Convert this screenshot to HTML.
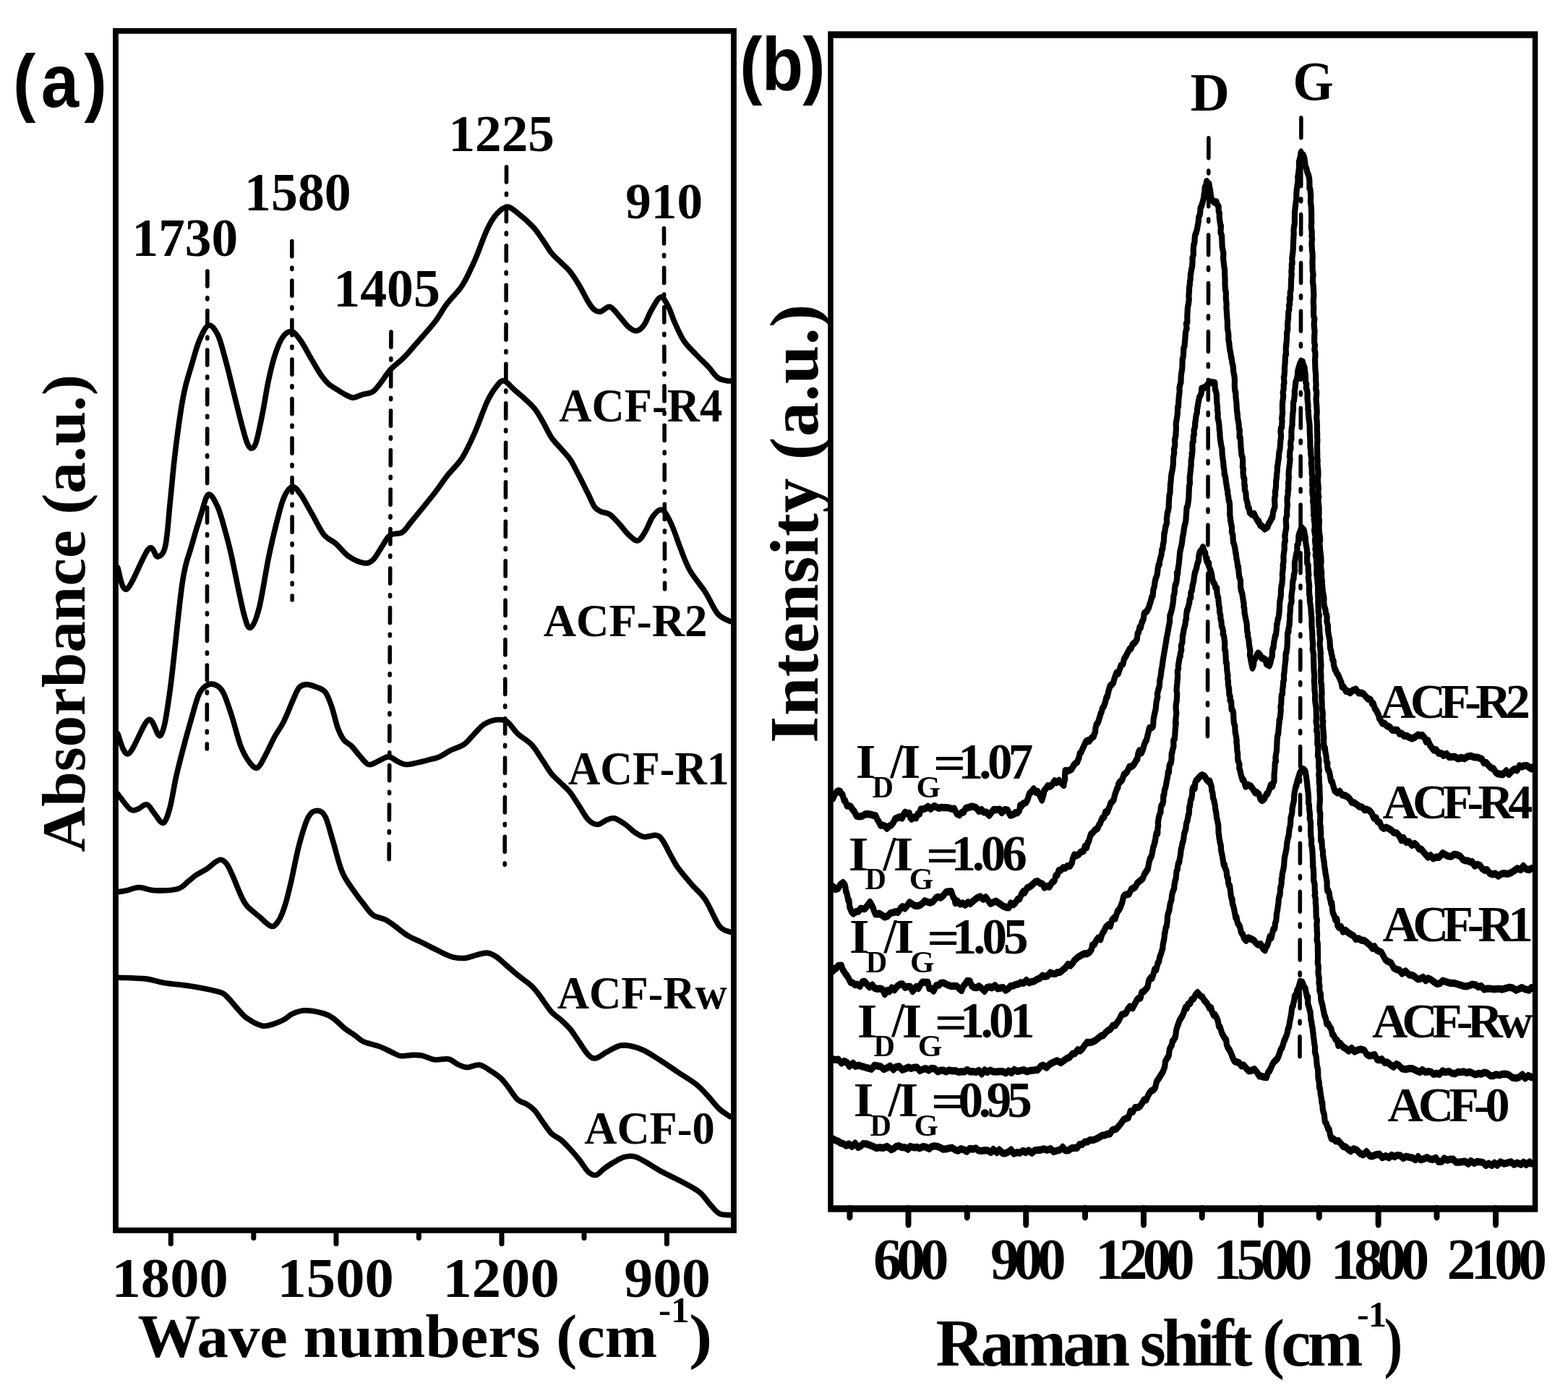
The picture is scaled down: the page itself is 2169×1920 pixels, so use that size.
<!DOCTYPE html>
<html><head><meta charset="utf-8"><style>html,body{margin:0;padding:0;background:#fff;}svg{display:block;}</style></head>
<body><svg width="2169" height="1920" viewBox="0 0 2169 1920">
<rect width="2169" height="1920" fill="#fff"/>
<rect x="160.0" y="42.8" width="855.0" height="1659.1000000000001" fill="none" stroke="#000" stroke-width="7.8"/>
<line x1="236.3" y1="1701.9" x2="236.3" y2="1720.5" stroke="#000" stroke-width="7" stroke-linecap="round"/>
<line x1="350.8" y1="1701.9" x2="350.8" y2="1712.5" stroke="#000" stroke-width="7" stroke-linecap="round"/>
<line x1="465.0" y1="1701.9" x2="465.0" y2="1720.5" stroke="#000" stroke-width="7" stroke-linecap="round"/>
<line x1="579.4" y1="1701.9" x2="579.4" y2="1712.5" stroke="#000" stroke-width="7" stroke-linecap="round"/>
<line x1="694.0" y1="1701.9" x2="694.0" y2="1720.5" stroke="#000" stroke-width="7" stroke-linecap="round"/>
<line x1="808.0" y1="1701.9" x2="808.0" y2="1712.5" stroke="#000" stroke-width="7" stroke-linecap="round"/>
<line x1="922.4" y1="1701.9" x2="922.4" y2="1720.5" stroke="#000" stroke-width="7" stroke-linecap="round"/>
<path d="M162.8,785.1C164.9,790.1 168.4,819.2 175.5,814.9C182.6,810.7 198.2,767 205.3,759.6C212.4,752.1 214.2,770.9 218.1,770.2C222,769.5 225.9,767.6 228.7,755.3C231.6,743.1 233,717.3 235.1,696.9C237.3,676.5 239,654.4 241.5,633.1C244,611.8 247.5,585.5 250,569.2C252.5,552.9 253.9,545.8 256.4,535.2C258.9,524.5 261.7,516 264.9,505.4C268.1,494.7 271.7,480.6 275.6,471.3C279.5,462.1 284.1,451.5 288.3,450C292.6,448.6 297.2,455 301.1,462.8C305,470.6 308.2,484.1 311.7,496.9C315.3,509.6 318.8,525.2 322.4,539.4C325.9,553.6 329.8,569.9 333,582C336.2,594.1 339.1,605.4 341.5,611.8C344,618.2 345.8,620.3 347.9,620.3C350,620.3 351.8,619.6 354.3,611.8C356.8,604 360,587.7 362.8,573.5C365.7,559.3 368.5,540.1 371.3,526.7C374.2,513.2 376.7,502.5 379.8,492.6C383,482.7 386.6,472.7 390.5,467.1C394.4,461.4 399,457.9 403.3,458.6C407.5,459.3 411.4,464.9 416,471.3C420.6,477.7 426.3,489.1 430.9,496.9C435.5,504.7 439.8,512.5 443.7,518.2C447.6,523.8 450.4,527.4 454.3,530.9C458.2,534.5 463.2,536.9 467.1,539.4C471,541.9 474.2,544 477.7,545.8C481.3,547.6 484.5,550.1 488.4,550.1C492.3,550.1 496.5,547.2 501.1,545.8C505.8,544.4 511.4,544.8 516,541.6C520.7,538.4 524.9,531.6 528.8,526.7C532.7,521.7 534.5,517.1 539.5,511.8C544.4,506.4 552.6,500.8 558.6,494.7C564.6,488.7 568.5,483.7 575.6,475.6C582.7,467.4 594.1,455 601.2,445.8C608.3,436.6 611.8,428.8 618.2,420.3C624.6,411.7 633.1,404.6 639.5,394.7C645.9,384.8 650.8,373.4 656.5,360.7C662.2,347.9 668.6,328.7 673.5,318.1C678.5,307.5 681.7,302.1 686.3,296.8C690.9,291.5 696.2,286.5 701.2,286.2C706.2,285.8 710.1,290.1 716.1,294.7C722.1,299.3 731.7,307.8 737.4,313.8C743.1,319.9 745.9,324.8 750.1,330.9C754.4,336.9 758.7,344.7 762.9,350C767.2,355.3 771.4,358.5 775.7,362.8C779.9,367 784.2,370.2 788.5,375.6C792.7,380.9 797,387.6 801.2,394.7C805.5,401.8 810.4,412.5 814,418.1C817.5,423.8 819.7,426.6 822.5,428.8C825.3,430.9 827.5,431.6 831,430.9C834.6,430.2 839.5,423.4 843.8,424.5C848,425.6 852.3,432.7 856.6,437.3C860.8,441.9 865.4,448.8 869.3,452.2C873.2,455.6 876.4,458.1 880,457.7C883.5,457.4 887.1,454.9 890.6,450C894.2,445.2 897.3,435.3 901.2,428.8C905.1,422.2 910.1,411.6 914,410.9C917.9,410.2 921.5,418.7 924.7,424.5C927.8,430.3 929.6,438 933.2,445.8C936.7,453.6 941,463.9 945.9,471.3C950.9,478.8 957.3,484.5 963,490.5C968.6,496.5 975,502.2 980,507.5C985,512.8 988.5,519.2 992.8,522.4C997,525.6 1002,526 1005.5,526.7C1009.1,527.4 1012.6,526.7 1014,526.7" fill="none" stroke="#000" stroke-width="7.6" stroke-linejoin="round" stroke-linecap="round"/>
<path d="M162.8,1015C165.3,1019.6 170.6,1045.8 177.7,1042.6C184.8,1039.4 197.9,1000.1 205.3,995.8C212.8,991.6 217.4,1023.8 222.4,1017.1C227.3,1010.4 230.2,990.5 235.1,955.4C240.1,920.3 247.2,839.8 252.2,806.4C257.1,773.1 260.7,770.9 264.9,755.3C269.2,739.7 273.8,724.6 277.7,712.8C281.6,700.9 284.4,686.1 288.3,684.1C292.2,682.2 297.2,692.7 301.1,701.2C305,709.7 308.5,723.9 311.7,735.2C314.9,746.6 316,750.3 320.3,769.3C324.5,788.2 332.9,832.5 337.3,849C341.7,865.4 343.1,869.5 346.6,868.1C350.2,866.7 354.4,856.4 358.6,840.5C362.7,824.5 367.4,791.5 371.3,772.4C375.2,753.2 378.4,739.5 382,725.5C385.5,711.5 388.9,697.1 392.6,688.4C396.4,679.7 400.6,674.2 404.5,673.5C408.4,672.8 411.6,678.1 416,684.1C420.4,690.2 425.6,700.5 430.9,709.7C436.2,718.9 442.3,732.4 447.9,739.5C453.6,746.6 459.3,747.3 465,752.3C470.6,757.2 475.6,764.9 482,769.3C488.4,773.7 497.6,777.9 503.3,778.7C509,779.6 511.8,778.4 516,774.5C520.3,770.6 524.9,761 528.8,755.3C532.7,749.7 534.8,743.6 539.5,740.4C544.1,737.2 551.5,739.4 556.5,736.2C561.4,733 561.8,730.3 569.3,721.3C576.7,712.3 593,692.5 601.2,682C609.3,671.6 611.8,666.8 618.2,658.6C624.6,650.5 633.1,643 639.5,633.1C645.9,623.1 650.8,611.8 656.5,599C662.2,586.3 668.6,567.1 673.5,556.5C678.5,545.8 682.4,540.1 686.3,535.2C690.2,530.2 692.7,526 696.9,526.7C701.2,527.4 705.1,533.4 711.8,539.4C718.6,545.5 731,555.7 737.4,562.8C743.8,569.9 745.9,574.9 750.1,582C754.4,589.1 758.7,599 762.9,605.4C767.2,611.8 771.4,615.3 775.7,620.3C779.9,625.3 784.2,628.8 788.5,635.2C792.7,641.6 797,650.5 801.2,658.6C805.5,666.8 810.4,677.1 814,684.1C817.5,691.2 819.7,697.3 822.5,701.2C825.3,705.1 827.5,705.8 831,707.6C834.6,709.3 839.5,709 843.8,711.8C848,714.7 852.3,720 856.6,724.6C860.8,729.2 865.1,735.6 869.3,739.5C873.6,743.4 878.2,748.7 882.1,748C886,747.3 889.2,740.9 892.7,735.2C896.3,729.5 899.5,718.9 903.4,713.9C907.3,709 911.9,703.5 916.1,705.4C920.4,707.4 924.7,716.5 928.9,725.5C933.2,734.6 937.4,748.9 941.7,759.6C945.9,770.2 948.8,779.5 954.5,789.4C960.1,799.3 969.3,809.2 975.7,819.2C982.1,829.1 987.1,842.2 992.8,849C998.4,855.7 1006.9,857.8 1009.8,859.6" fill="none" stroke="#000" stroke-width="7.6" stroke-linejoin="round" stroke-linecap="round"/>
<path d="M162.8,1098C165.6,1101.5 175.2,1115.7 179.8,1119.3C184.4,1122.8 186.5,1120.3 190.4,1119.3C194.3,1118.2 199.3,1111.8 203.2,1112.9C207.1,1113.9 210.1,1121.4 213.8,1125.6C217.6,1129.9 222.2,1139.8 225.8,1138.4C229.3,1137 232.1,1127.8 235.1,1117.1C238.1,1106.5 240.4,1088.7 243.6,1074.6C246.8,1060.4 250.7,1045.5 254.3,1032C257.8,1018.5 261.4,1005.7 264.9,993.7C268.5,981.6 271.7,967.4 275.6,959.6C279.5,951.8 284.1,948.6 288.3,946.9C292.6,945.1 297.6,946.9 301.1,949C304.6,951.1 306.4,952.9 309.6,959.6C312.8,966.4 316.4,977.4 320.3,989.4C324.2,1001.5 328.8,1021 333,1032C337.3,1043 341.9,1050.4 345.8,1055.4C349.7,1060.4 352.9,1063.6 356.4,1061.8C360,1060 363.2,1051.9 367.1,1044.8C371,1037.7 375.6,1027 379.8,1019.2C384.1,1011.4 388.4,1006.5 392.6,997.9C396.9,989.4 401.8,976 405.4,968.2C408.9,960.3 410.7,954.7 413.9,951.1C417.1,947.6 420.3,946.9 424.5,946.9C428.8,946.9 435.2,949.4 439.4,951.1C443.7,952.9 446.9,953.3 450.1,957.5C453.3,961.8 455.7,968.5 458.6,976.7C461.4,984.8 464.3,998.7 467.1,1006.5C469.9,1014.3 472.4,1019.2 475.6,1023.5C478.8,1027.7 482.7,1028.4 486.3,1032C489.8,1035.5 493,1040.5 496.9,1044.8C500.8,1049 505.4,1056.1 509.7,1057.5C513.9,1059 517.8,1055.1 522.4,1053.3C527,1051.5 532.7,1046.9 537.3,1046.9C541.9,1046.9 546.2,1051.5 550.1,1053.3C554,1055.1 556.5,1057.2 560.7,1057.5C565,1057.9 570.3,1056.5 575.6,1055.4C581,1054.3 587.3,1052.6 592.7,1051.1C598,1049.7 602.6,1049 607.6,1046.9C612.5,1044.8 616.8,1041.2 622.5,1038.4C628.1,1035.5 636.3,1033.4 641.6,1029.9C646.9,1026.3 649.8,1021.7 654.4,1017.1C659,1012.5 664,1005.7 669.3,1002.2C674.6,998.7 681,996.5 686.3,995.8C691.6,995.1 696.2,994.8 701.2,997.9C706.2,1001.1 710.4,1009.7 716.1,1015C721.8,1020.3 729.6,1023.8 735.2,1029.9C740.9,1035.9 745.5,1044.4 750.1,1051.1C754.8,1057.9 758.7,1065 762.9,1070.3C767.2,1075.6 771.4,1078.8 775.7,1083.1C779.9,1087.3 784.2,1090.5 788.5,1095.8C792.7,1101.2 797,1108.6 801.2,1115C805.5,1121.4 809.7,1129.9 814,1134.1C818.2,1138.4 822.5,1140.5 826.8,1140.5C831,1140.5 835.6,1135.6 839.5,1134.1C843.4,1132.7 845.9,1131 850.2,1132C854.4,1133.1 860.5,1137.3 865.1,1140.5C869.7,1143.7 873.6,1148.3 877.8,1151.2C882.1,1154 885.6,1156.8 890.6,1157.6C895.6,1158.3 903.4,1154.7 907.6,1155.4C911.9,1156.1 912.6,1156.8 916.1,1161.8C919.7,1166.8 925.4,1178.9 928.9,1185.2C932.5,1191.6 932.8,1193.5 937.4,1199.8C942,1206.1 950.2,1215.8 956.6,1223.2C963,1230.7 969.3,1234.9 975.7,1244.5C982.1,1254.1 989.2,1273.2 994.9,1280.7C1000.6,1288.1 1007.3,1287.8 1009.8,1289.2" fill="none" stroke="#000" stroke-width="7.6" stroke-linejoin="round" stroke-linecap="round"/>
<path d="M162.8,1233.8C164.9,1233.5 170.6,1232.8 175.5,1231.7C180.5,1230.7 186.2,1227.5 192.6,1227.5C198.9,1227.5 205,1231.4 213.8,1231.7C222.7,1232.1 238,1231.7 245.8,1229.6C253.6,1227.5 256.4,1222.1 260.7,1218.9C264.9,1215.8 267,1213.3 271.3,1210.4C275.6,1207.6 281.9,1204.8 286.2,1201.9C290.5,1199.1 293.7,1195.5 296.8,1193.4C300,1191.3 302.5,1188.8 305.4,1189.2C308.2,1189.5 311,1191.6 313.9,1195.5C316.7,1199.4 319.2,1205.5 322.4,1212.6C325.6,1219.7 329.8,1231.4 333,1238.1C336.2,1244.8 337.3,1248 341.5,1253C345.8,1258 352.9,1263.1 358.6,1267.9C364.2,1272.6 371,1280.8 375.6,1281.5C380.2,1282.2 383,1277.3 386.2,1272.2C389.4,1267 391.9,1260.1 394.7,1250.9C397.6,1241.6 400.1,1230.6 403.3,1216.8C406.4,1203 410,1182.7 413.9,1168.2C417.8,1153.7 422.4,1137.7 426.7,1129.9C430.9,1122.1 435.5,1121.4 439.4,1121.4C443.3,1121.4 446.5,1122.8 450.1,1129.9C453.6,1137 456.8,1151.2 460.7,1163.9C464.6,1176.7 468.5,1194.9 473.5,1206.5C478.4,1218.2 485.5,1226.5 490.5,1233.8C495.5,1241.2 499,1245.6 503.3,1250.9C507.5,1256.2 511.1,1262.2 516,1265.8C521,1269.3 528.1,1269.7 533.1,1272.2C538,1274.6 540.9,1277.1 545.8,1280.7C550.8,1284.2 557.2,1289.9 562.9,1293.4C568.5,1297 574.2,1299.1 579.9,1301.9C585.6,1304.8 591.2,1307.6 596.9,1310.5C602.6,1313.3 609,1316.7 613.9,1319C618.9,1321.2 621.7,1323 626.7,1324.1C631.7,1325.1 638.4,1325.9 643.7,1325.4C649.1,1324.9 653.7,1322.3 658.6,1321.1C663.6,1319.9 668.9,1317.8 673.5,1318.1C678.1,1318.5 681.7,1320.2 686.3,1323.2C690.9,1326.2 696.2,1331.7 701.2,1336C706.2,1340.3 710.4,1344.2 716.1,1348.8C721.8,1353.4 730.3,1359.1 735.2,1363.7C740.2,1368.3 741.3,1370.4 745.9,1376.4C750.5,1382.5 758,1394.2 762.9,1399.8C767.9,1405.5 771.4,1406.6 775.7,1410.5C779.9,1414.4 784.6,1418.6 788.5,1423.3C792.4,1427.9 794.8,1432.1 799.1,1438.2C803.4,1444.2 809.7,1455.2 814,1459.4C818.2,1463.7 820.4,1464.4 824.6,1463.7C828.9,1463 834.2,1458 839.5,1455.2C844.9,1452.3 851.2,1448.1 856.6,1446.7C861.9,1445.2 865.8,1445.6 871.5,1446.7C877.1,1447.7 883.9,1449.9 890.6,1453C897.3,1456.2 904.1,1460.9 911.9,1465.8C919.7,1470.8 928.9,1477.2 937.4,1482.8C945.9,1488.5 955.9,1494.2 963,1499.9C970.1,1505.5 974.7,1511.2 980,1516.9C985.3,1522.6 989.9,1529.3 994.9,1533.9C999.9,1538.5 1007.3,1542.8 1009.8,1544.6" fill="none" stroke="#000" stroke-width="7.6" stroke-linejoin="round" stroke-linecap="round"/>
<path d="M162.8,1352.2C169.2,1352.5 190.4,1352.7 201.1,1353.9C211.7,1355.1 215.3,1357.6 226.6,1359.4C238,1361.3 256.4,1362.8 269.2,1364.9C281.9,1367.1 295.8,1369.9 303.2,1372.2C310.7,1374.4 309.6,1374.7 313.9,1378.6C318.1,1382.5 324.2,1390.6 328.8,1395.6C333.4,1400.6 335.9,1404.5 341.5,1408.4C347.2,1412.3 356.4,1417.7 362.8,1419C369.2,1420.3 374.9,1417.4 379.8,1416C384.8,1414.6 388.4,1412.8 392.6,1410.5C396.9,1408.1 400.4,1404.1 405.4,1402C410.3,1399.8 415.3,1397.7 422.4,1397.7C429.5,1397.7 441.6,1400.2 447.9,1402C454.3,1403.7 455.7,1404.8 460.7,1408.4C465.7,1411.9 472.8,1419.4 477.7,1423.3C482.7,1427.2 486.3,1428.8 490.5,1431.8C494.8,1434.7 497.6,1438.5 503.3,1441.1C509,1443.8 518.2,1445.2 524.6,1447.5C530.9,1449.9 536.6,1453 541.6,1455.2C546.6,1457.4 549.4,1460 554.4,1460.7C559.3,1461.4 566.4,1459.5 571.4,1459.4C576.3,1459.4 579.2,1459.2 584.1,1460.3C589.1,1461.3 595.1,1465 601.2,1465.8C607.2,1466.6 615,1463.9 620.3,1465C625.6,1466 628.8,1470.3 633.1,1472.2C637.4,1474.1 640.9,1476.3 645.9,1476.5C650.8,1476.6 657.6,1472.3 662.9,1473.1C668.2,1473.8 672.8,1477.7 677.8,1480.7C682.8,1483.8 688.4,1487.5 692.7,1491.4C696.9,1495.3 699.4,1499.2 703.3,1504.1C707.2,1509.1 711.8,1517.2 716.1,1521.1C720.4,1525.1 725,1525.1 728.9,1527.5C732.8,1530 736,1532.1 739.5,1536C743.1,1539.9 746.2,1545.6 750.1,1550.9C754,1556.3 758.7,1563.7 762.9,1568C767.2,1572.2 771.4,1572.9 775.7,1576.5C779.9,1580 784.2,1584.6 788.5,1589.3C792.7,1593.9 797,1598.8 801.2,1604.1C805.5,1609.5 810.1,1617.6 814,1621.2C817.9,1624.7 821.1,1626.1 824.6,1625.4C828.2,1624.7 831.4,1619.8 835.3,1616.9C839.2,1614.1 843.4,1611.1 848,1608.4C852.7,1605.7 858,1602.2 862.9,1600.7C867.9,1599.3 872.5,1598.6 877.8,1599.9C883.2,1601.2 888.5,1604.9 894.9,1608.4C901.2,1612 908.3,1616.9 916.1,1621.2C923.9,1625.4 933.2,1629.3 941.7,1633.9C950.2,1638.6 960.5,1643.5 967.2,1648.8C974,1654.2 977.5,1660.9 982.1,1665.9C986.7,1670.8 990.3,1676.2 994.9,1678.6C999.5,1681.1 1007.3,1680.4 1009.8,1680.8" fill="none" stroke="#000" stroke-width="7.6" stroke-linejoin="round" stroke-linecap="round"/>
<line x1="286.9" y1="375" x2="286.3" y2="1036" stroke="#000" stroke-width="5.6" stroke-dasharray="21.1 15.6 2.3 15.5" stroke-linecap="round"/>
<line x1="403.8" y1="333.6" x2="404.2" y2="830" stroke="#000" stroke-width="5.6" stroke-dasharray="21.1 15.6 2.3 15.5" stroke-linecap="round"/>
<line x1="541.0" y1="459.1" x2="538.2" y2="1193" stroke="#000" stroke-width="5.6" stroke-dasharray="21.1 15.6 2.3 15.5" stroke-linecap="round"/>
<line x1="700.6" y1="230.8" x2="698.2" y2="1199" stroke="#000" stroke-width="5.6" stroke-dasharray="21.1 15.6 2.3 15.5" stroke-linecap="round"/>
<line x1="918.5" y1="315.8" x2="919.6" y2="815" stroke="#000" stroke-width="5.6" stroke-dasharray="21.1 15.6 2.3 15.5" stroke-linecap="round"/>
<text transform="translate(18,147.5) scale(0.9000,1)" letter-spacing="8.15" font-family='"Liberation Sans", sans-serif' font-weight="bold" font-size="104.66">(a)</text>
<text transform="translate(182.5,353.9) scale(1.0017,1)" font-family='"Liberation Serif", serif' font-weight="bold" font-size="73.19">1730</text>
<text transform="translate(338.1,291.3) scale(0.9869,1)" font-family='"Liberation Serif", serif' font-weight="bold" font-size="74.81">1580</text>
<text transform="translate(461.2,423.9) scale(0.9896,1)" font-family='"Liberation Serif", serif' font-weight="bold" font-size="74.67">1405</text>
<text transform="translate(620.4,209) scale(1.0314,1)" font-family='"Liberation Serif", serif' font-weight="bold" font-size="71.08">1225</text>
<text transform="translate(865.2,301.8) scale(1.0078,1)" font-family='"Liberation Serif", serif' font-weight="bold" font-size="70.67">910</text>
<text transform="translate(773.3,582.6) scale(0.9462,1)" font-family='"Liberation Serif", serif' font-weight="bold" font-size="66.17">ACF-R4</text>
<text transform="translate(751.7,880.3) scale(0.9913,1)" font-family='"Liberation Serif", serif' font-weight="bold" font-size="63.35">ACF-R2</text>
<text transform="translate(785.7,1084.5) scale(0.9296,1)" font-family='"Liberation Serif", serif' font-weight="bold" font-size="66.47">ACF-R1</text>
<text transform="translate(770.8,1395) scale(0.9681,1)" font-family='"Liberation Serif", serif' font-weight="bold" font-size="63.35">ACF-Rw</text>
<text transform="translate(808.3,1582.3) scale(0.9903,1)" font-family='"Liberation Serif", serif' font-weight="bold" font-size="63.11">ACF-0</text>
<text transform="translate(154.5,1793.9) scale(1.0296,1)" font-family='"Liberation Serif", serif' font-weight="bold" font-size="78.37">1800</text>
<text transform="translate(383.5,1793.9) scale(1.0296,1)" font-family='"Liberation Serif", serif' font-weight="bold" font-size="78.37">1500</text>
<text transform="translate(612.4,1793.9) scale(1.0296,1)" font-family='"Liberation Serif", serif' font-weight="bold" font-size="78.37">1200</text>
<text transform="translate(863.3,1793.9) scale(1.0181,1)" font-family='"Liberation Serif", serif' font-weight="bold" font-size="78.37">900</text>
<text transform="translate(190.5,1876.9) scale(1.0233,1)" font-family='"Liberation Serif", serif' font-weight="bold" font-size="84.85">Wave numbers (cm</text>
<text transform="translate(910.9,1828.9) scale(1.0046,1)" font-family='"Liberation Serif", serif' font-weight="bold" font-size="51.21">-1</text>
<text transform="translate(952.9,1876.9) scale(1.1442,1)" font-family='"Liberation Serif", serif' font-weight="bold" font-size="84.85">)</text>
<text transform="translate(117.3,1178.7) rotate(-90) scale(1.0321,1)" font-family='"Liberation Serif", serif' font-weight="bold" font-size="84.41">Absorbance (a.u.)</text>
<g transform="translate(1149.0,0) scale(0.8,1)">
<rect x="0" y="48.0" width="1218.2" height="1624.0" fill="none" stroke="#000" stroke-width="9.4"/>
<line x1="33.1" y1="1672.0" x2="33.1" y2="1683.4" stroke="#000" stroke-width="10" stroke-linecap="round"/>
<line x1="134.4" y1="1672.0" x2="134.4" y2="1693.6" stroke="#000" stroke-width="10" stroke-linecap="round"/>
<line x1="236.0" y1="1672.0" x2="236.0" y2="1683.4" stroke="#000" stroke-width="10" stroke-linecap="round"/>
<line x1="337.8" y1="1672.0" x2="337.8" y2="1693.6" stroke="#000" stroke-width="10" stroke-linecap="round"/>
<line x1="440.0" y1="1672.0" x2="440.0" y2="1683.4" stroke="#000" stroke-width="10" stroke-linecap="round"/>
<line x1="541.2" y1="1672.0" x2="541.2" y2="1693.6" stroke="#000" stroke-width="10" stroke-linecap="round"/>
<line x1="642.2" y1="1672.0" x2="642.2" y2="1683.4" stroke="#000" stroke-width="10" stroke-linecap="round"/>
<line x1="743.8" y1="1672.0" x2="743.8" y2="1693.6" stroke="#000" stroke-width="10" stroke-linecap="round"/>
<line x1="844.7" y1="1672.0" x2="844.7" y2="1683.4" stroke="#000" stroke-width="10" stroke-linecap="round"/>
<line x1="947.0" y1="1672.0" x2="947.0" y2="1693.6" stroke="#000" stroke-width="10" stroke-linecap="round"/>
<line x1="1048.1" y1="1672.0" x2="1048.1" y2="1683.4" stroke="#000" stroke-width="10" stroke-linecap="round"/>
<line x1="1150.0" y1="1672.0" x2="1150.0" y2="1693.6" stroke="#000" stroke-width="10" stroke-linecap="round"/>
<path d="M4.3,1104.5 7,1099.2 10.7,1095.3 13.6,1094.2 16.6,1094.7 18.4,1097.8 20.6,1099.3 23.1,1107 24.9,1107.1 28.3,1114.6 31,1114.7 34.6,1115.5 38.1,1120 40.6,1122 44.8,1128.8 49,1129.5 54.6,1128.9 59.3,1126.4 63.6,1126.2 69.2,1126.6 73.7,1127.7 77.8,1128.3 81,1134 83.1,1136.4 86.2,1141.6 89.2,1141.4 93.5,1142.4 97.4,1145.8 101.3,1142.7 104.8,1141.5 108.6,1137.7 111.4,1132.9 114.6,1131.7 119.1,1130.1 123.8,1131.5 126.3,1126.6 128.8,1123.7 133.5,1125.7 136.1,1124.8 137.8,1130.9 140,1132.7 144.5,1130.3 147.9,1131.4 151.1,1125.5 153.9,1125.5 155.6,1119.7 159.3,1119.4 164.3,1118.2 168.2,1115.7 173.2,1119 178.7,1115 182,1116 186.6,1117.9 191.7,1116.8 195.3,1117.1 200.4,1117.2 205.8,1117.8 209.6,1119 213.8,1118.5 218,1125.5 222.6,1127.3 226.4,1124.1 229.8,1123.5 233.6,1118.1 238.4,1117.1 243.1,1115.6 247.1,1115.8 251.8,1117.3 256.2,1121.9 261,1120 264.4,1123.4 269.1,1123.5 274.3,1127.9 278.3,1123.4 282.2,1119.8 287.1,1120.2 292.4,1119.5 295.8,1124.2 301.1,1120.1 305.9,1120.6 310.6,1127.6 315.8,1126.7 319.4,1124.2 323.2,1124.3 326.4,1121.1 327.7,1114.1 330,1115 333.4,1111.3 337.8,1110.1 340.5,1106.2 343,1099.4 344.5,1096.9 346.8,1095.7 351,1091.4 355,1095.9 358.1,1095 359.8,1097.2 361.9,1100.7 365.4,1106.6 367.5,1100.7 368.4,1098.7 368.9,1094 371.9,1091.2 375.3,1087.2 378.8,1088 382.9,1085.6 387.2,1080.3 390.7,1082.3 395,1079.7 398,1082.2 403.2,1086.1 403.5,1082.7 405.4,1077.5 405,1073.3 405.6,1066.2 409.2,1066.4 412.6,1065.8 416.8,1063.7 421.2,1057.5 423.9,1055.5 426.7,1054 428.4,1049.5 429.3,1048.8 430.7,1042.5 432.4,1041.5 434.5,1038 437.8,1032.3 441.2,1026.2 444.3,1024.4 446.9,1025.2 450.8,1021.1 454.8,1018.7 456.1,1015.1 457.6,1012.9 457.9,1008 459.5,1002.4 461.8,1000 463.4,996.9 465.5,991.4 466.7,987.8 468.4,984.7 470.2,979.4 472.2,977.3 474.5,972.5 476.9,964.5 478.3,964.1 480.7,955.3 481.5,953.3 483.3,948.6 485.1,947.7 488.9,944.2 490.7,938.6 494.2,930.9 497.3,931.5 499.1,927.3 502.1,920.4 505.7,918.3 507.3,911.9 510.8,907.4 513.2,903.4 517,897.9 519.6,896.6 521.6,892.1 525.1,889.4 526.6,888.3 529.8,884.3 530.7,876.3 532.3,875.3 534.3,867.6 536.1,868.2 538.2,860.5 538.8,860.6 541.1,855.7 542.1,848.5 545.4,846.4 546.9,845.4 550.1,840.5 551.5,836.4 553.2,832.8 555.3,825.7 557,824.7 558,815.5 559.8,811.3 560.6,805.8 561.9,800.9 563.2,798 564.8,794.3 565.3,790 566,785.4 566.8,781.7 568.5,780.9 568.7,776.6 570.8,770.5 571.6,768.4 572,766.6 572.8,760.6 574.2,759.2 574.6,754.1 576.1,748.8 576.5,742.9 576.8,737.4 577.7,736.7 578.8,729.1 579.3,728.7 581.2,723.5 581.1,716.7 581.8,713.6 582.3,709.1 583.2,707.7 584.9,700.8 584.5,698.6 585.3,690.4 585.5,685.8 586.9,681.6 587.1,676.6 587.5,670 588.3,665.4 588.9,657.9 589.9,653.7 591,650 591.8,645.4 592.4,641.5 592.5,633.2 593.9,627.2 594.1,625.3 593.6,622 595.3,616.6 595.5,613.6 595,608.1 595.9,606.1 596.8,602.4 596.8,599 597.4,594 597.1,586.3 597.4,584.1 597.9,582.5 599.1,576.6 599.8,572 600.2,562.9 601.3,561.9 601.6,555.2 602.5,546.8 603.4,542.1 603.1,536.4 604.8,530.3 605.6,529 605.9,519.9 606.6,516.1 607.8,510.3 608.3,501.8 608.3,497.5 609.9,492.5 610.3,485.5 610.3,481.7 611.9,478.9 612.7,471.4 613.1,467.3 613.7,460.2 615,455.7 615.8,455.1 614.9,447.5 616.7,445.7 616.6,437.1 616.7,436.6 617.1,430.1 617.4,425.5 619,419 619.2,417 619.8,413.8 619.2,410.6 620.1,401.1 619.8,399.3 621.1,393.5 621.2,388.8 622.1,386.5 622.3,380.6 624.2,371.4 625.1,369.3 625.7,361.3 625.7,356.4 627.4,352.2 627.1,346.1 627.7,339 628.2,338.9 629.2,335.2 629.8,327.4 630.9,323.3 631.8,322.5 633.7,317 634.4,313.2 635.9,307.1 636.5,300.5 637.8,298.1 638.9,295.2 639.4,287.9 641.5,284.7 642.2,282.1 643.2,280 645.2,273.4 645.7,269.2 646.6,265 647.1,259 648.3,259.1 650.2,251 653.6,255.3 654.3,254.4 655,258.2 656.2,262.8 657.1,268.2 658.6,275.9 660.2,276.9 663,279.7 667,279.3 668.3,282.6 670.8,285.7 670.9,292.5 672.3,295 672.1,299.7 673,306.2 674.4,312.6 674.9,312.4 674.3,321.6 676.3,325.9 676.5,329.1 677,340.9 678.4,347 679.3,350.3 678.8,356.6 680.1,366.6 681.4,373.7 681.6,380.7 681.9,386 681.9,393.9 682.6,401.6 683.7,405 683.4,411.8 684.6,421.5 684.2,424.9 685.2,434.9 685.4,439.6 686.1,444.9 686.2,453.8 687.6,460.7 688.1,465.2 687.7,468.7 689.4,475.7 689.1,475.6 690.4,484.5 691.3,486.9 692.8,495.4 693.2,495.1 694.5,502.8 695.7,505.6 696.5,513.3 696.8,515.1 698.2,520.9 698.7,525.8 698.5,534.4 699.3,541.1 700.3,542.4 700.6,549.6 701.9,558.5 701.9,561.1 702.7,570.2 703.2,570.5 703.8,578.1 705.8,586.6 706.2,593 707.3,594.9 706.9,604.3 708.4,604.8 709,612.6 709.3,618 709.7,621.6 710.5,629 712.2,632.8 712.8,638.2 712.4,646.4 713.7,648.6 713,653.1 713.9,659.8 714.1,660.6 715.5,662.5 715.2,670.7 716.3,671.5 715.9,676.6 718,682.2 718.5,690.2 718.8,690.3 721,696.7 721.4,701 723.3,702.5 724.7,708.8 728.6,711.6 732.3,710.8 735,715.7 739.3,721.7 740.5,721.2 742.7,726.4 746.2,728 750.6,731.6 755,729.3 757.8,724 760.4,720.6 763.1,715.7 763.9,715.8 765.3,707.6 766,705.5 766.9,704.4 768.2,700.6 767.6,691.4 767.7,689.6 768.9,684.9 768.5,680.2 769.4,677.1 770,673.5 770.3,664.5 771.2,660.7 771.4,656.4 772.3,650.7 772.2,646.1 772.8,644.9 774.1,636.6 774.6,635.2 775.5,625.3 776.7,622 777.7,612.7 777.7,610.4 778.9,604 778.1,596.8 778.5,592.4 780.2,590.8 780.4,585.4 780.7,581.6 780.1,579.1 781.5,570.7 781.3,569 781.1,562.9 781.3,557.1 781.8,554.6 782.8,547.4 782.1,543.1 783.5,537.4 783.3,532.5 784.4,529.5 783.6,522 784.4,519.7 785.1,512.2 784.8,511 785.5,503.9 785.7,503.2 786,496.5 786.4,491.2 787.5,490.4 787.1,481.7 788,477.7 787.3,477.9 788.3,473.6 788.6,470.2 789,462.4 788.7,461 790.3,456 790.2,447.4 791.3,439.8 791.6,431.6 792.9,428.2 792.6,422.1 794,421.2 793.4,412.6 794.9,413.7 794.5,404.5 795.5,402.4 795.9,399.7 796.1,392.8 796.4,388.8 796.2,387.9 797.2,379.4 796.6,376 797.4,371.1 797.2,365.4 798.4,364.3 797.8,357.4 799.2,349.3 799.7,344.8 799.7,342.3 800.1,336 800.1,332.6 800.5,328.2 800.9,322.1 800.6,318.5 801.6,311.6 802.4,310.3 802.3,302.4 802.6,297.8 802.4,295.6 802.7,291.8 803.6,285.7 804.5,279 805.2,276.3 805.5,265.8 806.1,261.7 807.3,254.7 807.7,254.4 808.1,248.4 807.8,244.7 808.8,240.2 809.9,231.6 810.2,232.4 809.8,224.1 811.5,218.9 812.4,215.5 813.2,210.9 815.9,214.5 817.3,214.5 819.2,218.9 819.7,221.8 821,230 823,233.5 823.6,236.7 824.8,239.6 826.5,242.5 827.8,248.2 828.1,255.5 827.9,260.4 829.1,261.4 829.8,265.4 830.4,272.3 829.8,278.7 830.2,280.9 831,286.1 831.4,293.6 831.4,304.6 831.6,309.8 831.3,309.6 831,314.3 832.1,319.9 832.1,326.6 831.7,326.8 832.6,329.9 831.8,336.3 832.1,340.9 832.5,347 833.2,349.8 833.4,356.4 832.9,364.3 833.2,365.1 833.2,373.4 834.5,379.9 834,382.5 833.6,390.5 834.6,394.5 834.9,400.9 835.5,408.5 834.7,415.4 834.6,419.1 835.3,423.4 835,432.4 835.1,437 836.7,440.5 835.7,449 836.4,454.9 837,457.8 836.5,464.1 836.3,473.1 837.5,477.6 836.6,483.9 837.9,487.2 838.1,492.7 837.5,496.2 837.7,501.3 838,511 838.8,517.1 839,519.2 838.9,525.7 839.5,531.8 838.9,538 840.1,541.1 840.2,545.4 839.4,552.2 840.4,561.9 840.5,563.8 840.9,569.4 840.2,578.2 840.9,582.5 841.1,589.7 841,594.4 841.5,600.1 841.3,604.9 841.7,608.1 841.3,615.7 841.3,623.1 841.5,623.8 841.6,634.9 842.1,636.2 841.8,641.5 842.9,650.9 843.1,657.4 842.3,662.4 842.8,669.5 843.7,675.7 842.7,681.3 844.1,687.4 843,688.7 843.2,693.2 844.5,703.1 844.3,708.4 844.5,710.4 843.8,714.3 845,719.8 844.5,725.7 844.3,729.3 844.9,736.3 845.2,738.2 846.3,743.4 846.3,748 845.3,750.7 846.1,756.5 846.2,759.8 846.9,764 847.8,769.9 848.2,776.7 847.5,783 849.1,793.4 848.5,796.3 849.8,803.7 849.9,807.5 850.7,814.9 851.2,820.8 851.8,821.4 853.1,827.7 852.8,832.9 853.5,838 855.1,842.1 855.7,843.7 856.1,848 857.5,850.2 858.3,854.1 858,859.7 859.9,865.6 859.9,872.4 860.5,874.8 861.8,881.4 863,885.7 863.2,888.7 863.8,896.5 865.5,900.6 865.6,903.4 867.4,908.5 867.4,911.8 869.5,914.2 869.9,919.4 872.1,926.6 872.8,926.1 875,931.1 877.5,933.6 879.8,937.7 883.3,944.8 884.4,950 886.8,950.1 891.1,955.9 894.2,956.2 898.3,958.2 902.9,955.1 908.1,953.5 912.9,958.5 918.1,958.6 922,960.3 925.2,963.4 929.2,966.7 933.6,968 936.2,973.3 938.4,973.3 941.1,980.4 943.7,982.9 946,986.8 947.4,989 948.7,993.6 950.5,995.8 954,1000.5 957.7,1000.8 962.1,1004.3 966.7,1005.6 971.1,1010 974.8,1009.8 979.9,1009.8 983.6,1015 987.2,1014.5 991.6,1017.9 997,1018.1 1000.6,1020.1 1005.8,1021.5 1010.6,1019.6 1015.4,1016.5 1019.1,1017.5 1023.3,1017.2 1027.3,1021 1029.7,1026 1033.1,1024.6 1036.1,1030.4 1039,1033.7 1043.3,1037.7 1047.1,1037.2 1051,1041.8 1056.3,1042 1059.5,1045 1065,1042.9 1069.5,1047.2 1075.4,1046.9 1079.9,1046.9 1084.7,1049.5 1090.4,1048 1096.2,1049.3 1101,1046.5 1106.6,1045.7 1112.4,1047.4 1117.4,1047.5 1121.9,1048.6 1126.3,1050 1129.3,1055.2 1133.9,1055.2 1138.2,1059.2 1142.1,1062.3 1146.1,1063.2 1150.2,1068.4 1152.8,1070.1 1158.4,1070.9 1162.2,1071.4 1168.2,1066.4 1172.7,1071 1178.8,1065.9 1182.5,1063.9 1186.9,1065.5 1191,1059.3 1195.5,1060.6 1198.5,1059.3 1204.1,1059 1208.1,1061.6 1211.9,1063.5 1211.8,1061.7" fill="none" stroke="#000" stroke-width="10.2" stroke-linejoin="round" stroke-linecap="round"/>
<path d="M4.3,1226.4 8.4,1230.1 13.1,1228.8 16.7,1223.8 21.3,1221 24.4,1223.8 25.6,1227.5 26.4,1233.3 27.4,1234 28.7,1238.3 30.5,1245.8 31.8,1245.5 32.9,1255 34,1256.9 36.2,1261.1 39.3,1263.7 43.4,1261.3 48.4,1260.4 52,1256.7 57,1257.2 59.2,1257.1 63.4,1252.9 67.9,1247.9 71.2,1252.2 73.1,1255.4 74.6,1259 77.3,1264.3 80.5,1264.4 84,1263.7 89.3,1266.3 93.3,1268.5 98.9,1267 102.9,1263.3 107.2,1262.5 112.1,1261.3 116.4,1261.9 121.1,1256.2 124.2,1254.1 128.5,1256.5 131.8,1253.4 136.5,1248.3 141.9,1251 145.7,1252.8 150.7,1253.1 155.3,1251.8 159.5,1249.1 162.8,1246.2 167.3,1247.8 172.4,1248.7 177.2,1247 182.3,1241.9 185.5,1240.8 190.7,1241.7 195.2,1238.5 199.5,1234.1 203.8,1233.4 208.6,1233.2 211.8,1240.8 214.3,1243.3 215.6,1249.1 219.4,1246.7 224,1250.7 228.4,1249.4 232.5,1251.8 237.6,1248.2 241.6,1250 246,1246.6 249.8,1244.2 253.8,1241.9 258.6,1240.3 263.9,1243.9 268.3,1241.2 271.9,1245.2 276.1,1249.9 281.6,1248 286.1,1246.5 290,1248.9 294.9,1251.4 297.9,1253.3 303.9,1255.1 308.2,1255.4 311.4,1249.4 315.8,1251.3 319.2,1249 323.6,1243.8 326.7,1243.5 330.1,1236.7 333.2,1233.1 335.6,1234.8 339.6,1228.3 342.5,1227.4 346.6,1225.2 350.2,1222.7 353.8,1219.9 357.9,1219 362.1,1221.8 366.7,1222.9 369.4,1227.5 374.3,1225.8 378.3,1226.7 382.4,1221 386.2,1218.8 387.3,1217.8 389.3,1211.2 392,1210.4 394.3,1204.2 398,1203.6 401.9,1200.3 405.8,1200.7 409.3,1198 414,1197.8 417.3,1193.4 418.3,1189 421.4,1182.5 424.1,1183.7 428.9,1181.9 432.1,1178.8 437.4,1177.2 439.7,1170.7 442.9,1172.1 444.4,1165.6 446.2,1164.4 447.9,1159.3 450,1154.2 453.7,1151.5 457.9,1147.6 461.7,1145.9 463.5,1141.8 466,1139.1 468.6,1133.4 470,1131.4 472.7,1130.7 475.2,1123.4 478.1,1123.9 480.5,1119.1 481.8,1117 484.4,1110.7 486.3,1109.5 489.6,1106.4 491.2,1099.8 493.4,1095.1 495.2,1090.7 496.7,1089.6 497.6,1084.8 499.7,1082.1 501.8,1080.7 504.4,1078.2 507.1,1071.5 510.9,1069.1 512.9,1067.2 516.4,1060.9 520.1,1060.4 523.9,1058.1 527,1053.9 528,1051.9 530.3,1050.2 531.8,1042.3 533.8,1038.4 537.4,1041.5 539.9,1036.9 542.2,1030.3 544.1,1026.1 544.9,1025.4 546.1,1024.1 547.8,1018.3 549.9,1011.2 551.2,1007.2 552.4,1007.5 556.3,1005.9 557.6,1004 558.2,996.2 558.8,992.8 560.1,987.5 562,981.5 563,972.9 563.6,969.8 565.4,963.9 564.8,959.7 565.9,956.8 566.9,952.6 567.8,951.6 568.7,947.6 569.1,941 570.2,937.4 570.9,934.6 571.3,931.3 572,926.8 573.2,922.3 574.3,914.9 575.8,907.5 577.1,901.4 579,892.6 579.6,889.8 580.9,883.1 583.3,873.1 584.6,866.7 586.4,859.7 586.6,852.1 588.9,846.3 589.7,844 591.7,835.7 592.9,828 592.8,825.4 594,822 594.8,818.7 594.9,815.5 595.8,809.1 597,808.2 598.1,804.5 599.1,797.7 598.6,792.4 600.2,793.5 600.8,786.4 602,781.1 602.8,774.5 604,763.9 605,760.2 607.1,752.6 607.8,749.6 608.6,743.1 610.2,737.3 610.6,733.9 612.3,726 613.3,723.9 614.3,719.8 614.6,714.6 615.2,709.3 615.7,702.4 617.1,700.3 618.2,694.9 619.2,689.4 619.5,681.2 620,672.6 621.2,668.5 620.9,659.9 621.6,656.4 622.7,647.1 623.4,643.2 623.3,636.8 625,629.6 624.4,627.3 625.7,624.8 625.5,620 625.6,612.8 627.2,610.2 627,606 627.4,602.1 628.6,600.9 628.2,595.5 630.2,589.8 630.2,584.7 631,581.8 632,574.7 633.5,571.1 633.8,566 635,560.6 635.5,557.8 636.5,554 637.3,550 639.2,547.1 640.8,544.3 641.6,537.5 644.5,536.9 648.8,534.9 652.5,531.4 656.1,528.9 660.6,529.2 664.3,529.8 664.8,538.6 666.2,541.2 667.5,546.5 667.4,551.5 667.9,552.6 667.6,555.2 669,564 668.7,566.5 669.6,571.6 669.5,578 670.4,581.4 671.2,584.3 671.8,587.4 672.2,594.8 673,597.6 673,601.4 673.6,606.9 674.9,614.1 675.9,618.4 676.8,621 676.9,626.3 677.9,633.7 678.7,637.5 679.1,641.2 679.4,644.6 680.6,650.7 680.8,656.2 681.4,655.8 682.8,660.6 683.6,666.3 684.8,672.1 685.6,676.8 686.5,678.9 686.6,682.8 687.7,687 688.4,692.9 689.4,693.5 690,698 690.5,709.1 690.1,711.6 690.7,713.8 691.6,719.7 691.2,719.3 692.7,725.3 693.3,727.1 693.9,730.8 693.6,735.7 695.6,740.5 695.7,744.2 696.1,749.4 697.7,753.2 699.1,757.6 700.4,765.6 700.8,765.4 701.8,773 702.9,776.5 704,784.4 704.9,783.5 705.7,791.5 706.5,798.2 706.8,797.7 708.7,803.1 708.8,812.2 710.1,817.5 711.7,821.1 711.9,822.5 713.7,831.9 714.5,834.5 714.4,839.7 715.4,841.6 715.7,847.3 716.5,850.9 718.5,859.1 719.1,860.9 719.6,863.2 720.1,872 721,876.1 721.4,876.1 721.2,879.7 723,884.9 723.6,891.7 723.9,892.9 725.5,900.6 724.9,906.1 726.5,911.1 726.3,912.3 728,918.9 729.4,923.8 731.2,919.9 732.2,913.2 734.9,910.1 736.1,907.4 739.1,903.5 742.6,905.9 745.6,910.5 747.5,910.8 752.1,912.8 753.6,918.4 758.7,920.5 761,915.2 762,910.7 763.7,906.7 763.5,902.6 764.4,896.9 765.7,896.1 766.5,888.7 767.9,883.3 768.6,879.5 769.9,878.1 770.5,874.3 771.2,869.6 771.3,863.6 772.4,862.6 773.4,855.8 774.3,855.1 775.2,850.2 775.7,845.9 776.2,839.1 776.5,833.7 777.1,830.1 778.6,823.3 778.6,817.7 779.4,810.5 780.3,808.7 781.4,799.2 781,794.4 782.6,784.1 781.9,783.2 782.7,778.6 783.3,776.9 783,769.5 783.2,768.1 783.6,765.2 784.8,759.2 784.6,757.3 784.7,751.6 786.1,748 785.3,740.8 786,740.3 786.1,737.5 787.6,731.1 787.9,727.3 787.2,721.6 787.3,717.4 789.1,712.7 789,707.8 789.3,703 790,698.7 789.4,694.1 789.5,688.7 790.8,684.3 790.7,678.4 791.6,677.4 791.3,667.4 791.7,667.6 792.4,659 791.9,658.1 792.2,651.8 793.3,644.6 793.4,643.9 794.6,634.8 793.5,631.4 793.9,630.9 794.3,623.4 795.8,619.9 795.2,613.5 795.5,610.9 796.8,607.6 796.7,602.6 796.8,602.5 796.7,597.3 797.3,591.7 798.3,587.5 798.2,584.4 798.6,578.3 798.8,576.4 799.1,572.2 799.9,567.7 800,557.1 801.4,553.5 802.5,544.3 802.1,541.9 803.2,536.1 804.1,528.8 805.4,525.5 806.2,524.3 807.1,520.1 807.9,512.5 809.5,508.2 811.4,503.3 813.3,500.3 816.1,500.5 817.1,504.2 819.5,508.3 820.4,515.7 821,517.9 821.2,524.8 821.4,528.5 822.9,531.5 822.2,536.7 823.9,540 824.5,543.7 824.4,548.7 824.3,551.3 825.6,560.9 825.4,566.1 826,568.5 826,571.6 827.3,582.3 827.8,583.7 828.3,589.7 828.5,599.4 828.8,603.4 829.2,610 829.2,619.6 830,620.1 830.1,622.9 830.5,629.7 831,632.7 831.8,634.8 830.8,641 831.4,643.3 832.1,648.4 832,653.3 832.1,656.1 833.1,657.9 832.6,664.4 833.3,665.2 832.5,670.1 833.6,673.6 832.8,678.6 833.3,683.9 834.7,688 834.3,689.6 833.7,693.5 834.7,696.4 834.8,703.8 835,703.5 835.3,711.1 834.9,712.1 836.6,716.1 835.8,718.7 836.6,721.2 837.2,728.1 837.4,728.7 836.3,733.3 837.2,738.2 837.6,739.1 838.3,743.4 837.4,747 837.9,750.8 838.7,755.6 838,759.4 839.3,764.1 838.4,768 839.3,771.3 839.9,772.8 840,780.1 840.8,785 840.2,793.7 841.8,802 841.7,804.9 842.6,810.7 842.7,821.6 843,828 843,831.4 842.9,835 843,835.9 843.3,840.7 843.3,846.9 844.9,851.9 843.8,854.2 844.2,859.1 844.3,865.9 845.2,866.3 845.4,872.2 845.7,878.2 846.7,883.3 845.6,890.5 846.4,895.4 847.4,904.4 846.9,906.6 847.8,916.8 848.1,920.9 847.4,928.1 848.1,935.7 847.7,943.5 848.6,945.9 848.9,950.8 849.5,959.7 848.8,962.8 849.6,972.9 849.4,979.4 850.2,982.1 851,986.1 850.8,991 850.5,996.2 851.7,997.7 851.1,1001 851.5,1007.5 852.5,1016.4 853,1021.1 852.4,1024.2 852.7,1027.7 853.1,1034.7 854.7,1034.2 855.3,1039.1 856.8,1045.6 857.3,1049.1 857.3,1052.7 859.2,1055.6 858.9,1059.3 859.9,1064.9 861.6,1066.2 863.2,1070.9 863.8,1074.1 865.1,1080.1 867.4,1081.7 868.9,1086.6 871.6,1093.7 876.4,1096.6 880.3,1094.8 884.3,1099.5 889.3,1100.4 892.9,1101.7 897.3,1104.8 901,1109.8 905.8,1110.6 910.5,1113.3 914.1,1115.7 919,1116.5 923.5,1120.4 926.8,1119.5 931.5,1121.2 935.7,1124.8 939.2,1131.6 943.3,1131.3 945.4,1136.4 949.3,1137.5 952.7,1143.9 956.1,1145.8 960.4,1144.6 965.2,1146.3 970,1148.6 973.8,1151.8 979,1152.4 983.2,1156.3 986.9,1162.3 990.3,1158.9 995,1164.8 1000,1164.4 1005.3,1169.1 1009.5,1166.9 1013.3,1169.2 1017.4,1174.2 1021.5,1174.9 1025.5,1178.9 1028.9,1182 1032.9,1185.6 1037.3,1183.2 1041.9,1187.4 1047.1,1185.7 1052.2,1185.8 1058.5,1180.1 1063.3,1182.6 1068.3,1184.4 1073,1184.6 1078.4,1181.8 1083.1,1182.4 1088.9,1184.6 1093.7,1189.4 1097.3,1190.3 1102,1190.7 1106.3,1192.4 1109.4,1192.2 1113.5,1197.6 1118.1,1195.9 1122.8,1196.9 1126.4,1201.4 1130.9,1203.8 1134.9,1203.1 1139.6,1208 1144.4,1209.4 1149.5,1208.6 1154.4,1211.7 1160.6,1208.5 1164.5,1208.1 1169.5,1209 1174.2,1208.1 1177.6,1206.8 1181.8,1204.5 1187.2,1201.3 1193.4,1203 1197.7,1197.9 1201.9,1201.9 1207.9,1203.2 1211.8,1201.2" fill="none" stroke="#000" stroke-width="10.2" stroke-linejoin="round" stroke-linecap="round"/>
<path d="M4.3,1343.3 7,1339.6 9.6,1339.6 13.3,1335.8 18.7,1335.7 21.3,1342 23.2,1343.8 26.1,1347.7 28,1349.4 30.1,1352.1 34.4,1358.8 38.6,1359.8 42.1,1362.2 45.5,1361.7 51,1364 54.8,1358.4 58.9,1357.8 63.5,1362.4 67.4,1365.3 72.2,1362.6 75.7,1366.8 80,1367.9 86,1367.5 89.8,1368.9 93.7,1375.2 97.7,1370.1 101.7,1371.4 105.6,1366.5 110.5,1369.2 114.9,1364.5 119.8,1361.6 124.2,1361.3 128.8,1365.9 132.4,1364.9 137.7,1364.8 141.8,1371.1 148,1365 151.6,1367.3 155,1362.4 158.7,1358.5 164.4,1358.9 168.2,1358.9 170.3,1367 173.7,1367.4 178,1370.7 182.8,1363 187.2,1362.6 190.7,1359.9 195.5,1359.5 199.8,1361.5 204.7,1363.1 209.2,1364.2 214.9,1363.8 218.6,1364.4 222.5,1367.5 226.3,1370.2 229.5,1364 233.2,1360.6 236.1,1356.8 241,1357.3 243.7,1363.5 247.9,1365.9 253.1,1366.1 256.2,1364.2 261,1367 266.2,1370.8 270.3,1366 275.2,1365.2 279,1366.5 284.4,1363.2 288.6,1367.4 293.6,1366.6 298.4,1366.2 302.7,1369.7 307.4,1367.5 310.8,1364 315.9,1363.6 320.6,1361.8 325.3,1361.1 328.7,1359.2 333.9,1360 338.4,1356.1 343.1,1359.2 347.7,1358 351.5,1357.5 357.3,1354.4 361.3,1353.6 366.4,1349.6 370.7,1350.8 374.7,1350.3 379.9,1345.5 384.4,1346.9 388.7,1347 392.3,1345.1 396.8,1344.8 400.6,1342.3 405.7,1339 410.3,1333.9 414.4,1335.7 418.5,1332.4 421.5,1328.4 425.6,1325.6 428.3,1323.6 432.1,1322 434.6,1320.6 439.5,1319.2 443.5,1319.3 447.9,1317 451.2,1313.2 452.6,1307.2 455.9,1306.6 459.3,1300.8 462.7,1297.5 466.7,1299.5 468.1,1295 470.5,1290.4 472.8,1287.8 475.9,1282.5 480.1,1279.3 483.7,1280.9 486.4,1272.9 490.4,1269.4 492.2,1270.5 495,1263.4 496.1,1260.2 498.3,1259 500.8,1255.3 502.2,1252.5 504.1,1248.3 506.5,1240.3 508.5,1238.3 512.7,1237.1 516.1,1236.6 519.8,1230.1 523.2,1228.8 527.3,1226.5 530.2,1221.6 533.4,1219.4 536.4,1217.5 539.6,1215.3 542.9,1208.8 545.1,1206.4 546.6,1204.1 548.6,1202 550.3,1193.8 551.5,1190.5 552.4,1187.3 554.7,1184.6 556.1,1180 557.8,1171.8 559.3,1169.2 560.5,1163.8 561,1164.7 562.3,1156.2 563.5,1151.9 565.3,1153 565.6,1145.4 566.5,1142 565.9,1138.9 567.1,1132.1 567.9,1129.2 568.7,1126.8 570.8,1122.9 570.6,1119.8 571.7,1114.7 574.1,1111.9 575.2,1108.4 575.2,1100.7 576.6,1099.7 577.3,1093.4 579.1,1089.3 579.9,1086.3 581.4,1079.3 581.4,1079.6 583.1,1071.6 583.4,1068.2 585,1067.9 585.6,1059.3 587.4,1055.9 588.4,1055.6 589.4,1050.2 589.5,1042.6 590.8,1040.8 591,1038.2 592.5,1033.9 593.1,1032.5 592.7,1024.4 594.7,1022.4 595.6,1014.3 595.5,1014.7 596,1008.5 597.2,1000.1 596.1,999.9 597.2,991.2 597.9,986.3 597,980.5 597.1,975 598.5,968.9 599,960.1 598.1,954.3 598.9,948.4 599.3,944.4 599.5,940.8 600.2,936.2 599.7,928.7 601.4,924.9 601.1,920.1 601.8,917.7 603.4,909.2 604.8,907.7 604.6,904.5 606.6,899 606,893.8 606.9,891.3 608.1,888.7 608.7,879.3 609.9,875.5 610.5,871.6 611.2,869.5 613.2,863.4 613.7,858.7 615.1,855.5 614.9,852.1 616.3,843.6 617.1,843.7 619.3,836.4 620.3,833.9 620.7,829.4 622.8,826.3 622.9,819.6 624.7,816.6 625.6,810.9 627.5,804.4 628,803 628.4,799 630,791.7 631.2,789.5 632.9,785 633.6,781.2 636.1,775.5 636.7,768.6 638.5,763.5 641.2,761.3 643.8,757 646.2,763.3 647.7,764.6 648.3,768.9 650.2,776 652.5,779.6 654,778.8 653.9,783.1 655.2,785.8 657.4,790.1 659,795.1 660.3,802.5 662.1,806 664.2,808.2 665.2,812.4 667.8,813.6 668.1,819.9 669,824.5 670.1,826.4 671,833.6 671.4,837.3 672.5,841.4 672.4,845.8 674.3,852.3 674.1,855.4 675.7,860.2 675.9,865.3 677.6,869.2 678.9,873.9 678.3,876.7 680.2,880 681.3,888.1 681.7,889.5 681.2,898 682.6,900 683.1,906.4 683.4,910.9 683.6,916.6 684.9,917.3 685.2,925 685.5,928.5 686.9,934.5 686.4,938.1 687.5,942.8 687.2,945.1 688.3,951.9 688.9,951.9 689.2,960.8 690.9,963.6 690.5,968.9 692.6,970.2 692.9,974.3 693.2,980.9 694.2,981.2 696.2,985.1 696.8,993.2 696.7,994.4 697.3,999.9 699.2,1004.8 699.2,1008.1 699.7,1013.8 700.1,1014.8 701.2,1018.6 702.2,1025.5 701.5,1025.8 702.6,1031.1 702.9,1038.6 703.9,1042.1 704.1,1049.2 704.1,1050.9 705.8,1055.2 706.9,1057.4 706.5,1062.7 708.2,1066.4 709.3,1071.3 711.9,1078.3 713.1,1078 715.2,1081.1 717.5,1087.7 722,1085.8 726.9,1087.8 729.4,1090.6 733.9,1096.5 736.2,1095.8 740.8,1099 743.3,1105.4 745.9,1107.1 749.6,1105.2 752.2,1101.1 753.8,1098.2 755.6,1098.1 758.1,1092.9 761,1086.1 764,1087.7 765.7,1082 767,1080.3 766.9,1071.8 767.6,1066.3 768,1061.6 768.2,1058.1 768.5,1054.9 770.1,1052.6 769.2,1049.1 769.9,1044.3 771.2,1038 771.4,1036.1 771.6,1031.4 772.1,1022.6 772.6,1018.2 774.1,1014.7 774.3,1010.7 774.6,1008.7 775.3,1002 776.1,997.5 775.6,996.6 777.3,992.7 777.6,989.3 778.5,982.6 778,978 779,974.1 779.4,965.7 779.8,961.3 781.2,959.8 781.5,953 782.3,949.2 782.6,943.2 783.9,940.2 783.6,934.3 784.2,931.4 784.7,928.5 785.1,923.3 786.2,915.9 787,911.1 786.7,911 787.1,903.3 788.1,902.7 789.5,894 789.5,893 789.9,885.5 789.9,879.6 790.3,875 791.9,873.7 791.5,871.2 793.4,863.7 793.1,861.8 794.1,856.6 793.9,852 794.9,843.6 794.8,840.3 795.7,835.8 797.2,832 796.7,825.7 797,822.8 798.1,816.3 798.8,813.2 798.6,809.3 799.4,803.1 800.8,800.1 800.8,796.5 801.9,792.7 802.8,789.1 802.4,786.4 802.5,777.9 803.2,774.9 804.1,770.9 805.1,766.7 805.5,764.8 806.7,762.7 806.7,754.2 808.5,752.1 809.2,743.7 809.1,741.9 810.3,738 812.6,733.5 813.9,729.7 817.5,732.7 818.4,733.4 820.4,741.8 820.9,742.9 821.3,749.6 822.7,756.1 823.5,759.4 823.8,765.5 824.7,765.5 823.8,769.9 824,778.9 825.8,781.7 825.8,787.6 826,790.9 826.8,795.3 825.9,798.6 827.3,807.4 827.8,812 827.2,813.8 827.7,821 827.6,822 829,828.1 828.4,829.4 829,834.3 829.9,837.7 830.7,844.8 830.9,848.9 831.5,852.3 831.9,858.2 831.8,865.4 832.4,870.9 832.8,873.8 832.9,882.3 833.4,886.1 833.9,892 833.3,898.1 835.1,904.9 835,910.5 835.3,917.7 835.6,926.8 836.1,931.7 836.6,934.6 836,942 836.9,951 836.7,953.8 837.8,960.4 837.5,966.2 837.8,970.6 839.4,978.4 839.6,983.9 840,993.6 839.3,998 841,1005 840.2,1010.7 841.5,1013.4 841.8,1022.1 841.5,1029.2 842.9,1030.9 842.7,1039.9 842.4,1045.4 844.2,1050.4 843.9,1059.9 844.8,1065.9 844,1072.2 844.6,1074.5 844.7,1083.2 845.5,1087.4 845.5,1094.2 845.8,1098.5 846.2,1105.7 845.3,1116.1 845.5,1121.5 846.7,1125.4 846.6,1130.2 846.2,1139.4 847.2,1143.9 847.1,1144.4 847.8,1154 847.5,1156 847.7,1163.1 849.2,1162.5 849.7,1170.1 849.9,1173.5 851.3,1177.7 851.2,1183.2 852,1186 852.5,1189.9 853.3,1192.2 853.4,1194.2 854.3,1200.9 854.7,1201.7 855.9,1209.5 856.5,1210.8 857.6,1218.1 858.2,1218.4 858.2,1225 858.8,1231.8 860.1,1231.4 862.1,1235.5 862.8,1241.6 863.4,1241.8 865.4,1250.2 866.7,1249.2 867.4,1255.4 868.2,1262 870.5,1266.3 871.9,1269.3 872.5,1271.7 875.4,1271.4 876.7,1280.4 879.4,1283.1 882.8,1282.2 886,1288.6 890.4,1286.8 894.9,1290 899.5,1292.5 904.4,1294.6 907.9,1299 913.4,1298.3 917.5,1300.7 922.5,1300.9 927.7,1304.1 932.4,1307.3 936.7,1311.7 940.2,1309.1 944.4,1314.5 948,1315.7 952.2,1317.2 955.6,1322.2 958.8,1326.9 962.1,1329.3 966,1330.9 969.3,1332.3 973.7,1338.8 978.6,1341 983.5,1342 988.1,1346.5 994.1,1343.4 1000.4,1348.4 1006.7,1349.2 1010.6,1351.5 1015,1354.3 1019.1,1354.2 1024.5,1351.8 1028.9,1356.3 1033,1353.4 1037.8,1355 1042.3,1357.7 1048,1360.8 1053.2,1360.5 1058.2,1356.7 1063.2,1357.8 1068.8,1359.4 1074.1,1360.1 1078.5,1359.9 1085,1361.7 1089.7,1362.7 1094.5,1364.1 1100.3,1364.3 1105.2,1363.1 1109.5,1361.7 1115,1362.4 1119.7,1365.2 1125,1364.1 1130.1,1368.6 1135.4,1367.5 1141.2,1367.7 1146.2,1368.3 1151.1,1368 1156.7,1367.9 1161.3,1368.6 1166.7,1367.3 1173.9,1365.7 1179.1,1366.6 1185.2,1369.8 1190.3,1368 1195.2,1366.1 1200.6,1368.3 1207.6,1369.7 1211.8,1366 1211.8,1367.4" fill="none" stroke="#000" stroke-width="10.2" stroke-linejoin="round" stroke-linecap="round"/>
<path d="M4,1465.3 8.7,1466 13.3,1465.7 18.8,1470.5 23.8,1467.8 28.2,1469.8 32.4,1474.7 38.7,1470.7 42.9,1474.8 48,1473.6 53.9,1475 60.5,1476.6 64.5,1477.5 70.8,1478.8 75.6,1473.7 80.1,1474.4 87.1,1475.5 91.9,1479.2 97.3,1477.3 103,1474.7 108.5,1479.4 113,1476 118.5,1475.1 123.7,1479.8 129.1,1478.4 134.5,1476.4 139.2,1477.9 144.3,1476.6 149.7,1476.7 153.9,1481 160.2,1479 164.5,1478.1 169.4,1480.5 174.3,1477.8 179.8,1478.3 185.2,1482.3 190.5,1480.6 195,1480.6 199.5,1482.4 205.1,1480.4 209.8,1481.3 215.7,1481.2 221.2,1483 225.3,1482.4 231.4,1482.5 236.1,1479.9 241,1482.3 246,1482.2 251.3,1483 256.3,1480.9 261.3,1485.6 266.4,1480.2 270.8,1483.1 276,1480.5 281.2,1482.5 287.6,1482.6 291.9,1482.1 297.1,1482 302.6,1484.4 307.7,1481.4 312.9,1483.9 317.4,1479.7 323.4,1482 328.6,1481 334.1,1480 339.1,1482.3 343.6,1481.2 348.9,1480.7 352.6,1480.2 358.3,1479.8 363.1,1475.1 367.1,1473.5 373.5,1476.7 379.1,1471.9 385.1,1469.5 391.2,1467.3 398.1,1470.1 402.8,1467.4 408.4,1464 413.1,1462.6 418.1,1457.8 422.4,1457.3 427.2,1452.2 431.5,1453.5 436.2,1449.7 439.2,1446 443.4,1441.8 447.7,1442.2 453.6,1441 457.9,1439.2 463.1,1435.9 467.7,1432.9 471.6,1432.3 475.7,1428.1 479.6,1425.4 483.9,1423.6 488,1418.6 491.9,1418.5 496,1413.9 498.3,1411.5 503,1403.8 505.6,1403 510.4,1401.5 513.8,1396 517.5,1392.5 522.3,1394.2 525.4,1389.4 529.6,1383.1 532.2,1381.2 536,1380.2 537.7,1372.7 542.1,1371.1 544.7,1368.6 548,1365.5 550.2,1356.3 553.4,1352.4 555.8,1353.2 558,1347.7 560.1,1341.2 563,1341.2 565.8,1332 567.7,1330.2 568.9,1324.5 570.5,1320.7 571.1,1319.9 573.1,1314.3 574.2,1312.2 574.5,1306.9 576.5,1299.6 577.1,1295.8 577.5,1291.1 578.4,1289.6 579.4,1283.5 580.9,1281.4 582.1,1273.9 582.4,1268.5 583.1,1265 585.7,1258.8 585.6,1257.7 587,1250.8 588.9,1245.8 589.5,1243.8 590.2,1238.2 591,1235 593,1230.8 594.1,1228.7 594.3,1224.2 596.1,1217 597.1,1215.3 598,1206.1 599.9,1201.8 599.8,1200.8 601.2,1193.8 602.8,1192.8 603.5,1188.4 605,1182.2 606,1174.2 606.6,1173.6 608.5,1165.8 609.6,1163.5 610.6,1158.5 611.2,1153.8 613.5,1148.3 614.4,1145.8 614.4,1143 615.4,1138.6 617,1134.6 618.7,1126.9 619.7,1125.8 620.1,1116.5 621.3,1115.2 622.3,1107.1 624,1104.5 624.9,1099.9 625.5,1092.8 626.7,1089.5 629.6,1090.4 630.4,1082.9 632.1,1079.6 635.5,1077.1 638.9,1073.8 642,1072.2 646.7,1073.8 649.7,1078 653.5,1081.2 655.6,1080.7 657,1084.7 658.7,1088.5 659.3,1094.5 660.5,1096.5 661.3,1103.7 663.2,1108.1 663.7,1111.1 664.8,1113.9 665.3,1119.6 666.3,1123.2 667.1,1127.1 667.3,1130.2 668.8,1135.4 669.9,1139.8 670.5,1142.9 670.7,1151.8 671.4,1155 672,1159.5 673.4,1165.8 674.8,1169.7 674.9,1173.7 675.4,1177.2 676.6,1181.5 677.3,1184.4 678.7,1191.1 679.7,1196.7 680.8,1195.7 682.4,1201.3 684.4,1204.7 685.3,1212.5 687.2,1215.2 687.4,1220.6 689.2,1225.6 690.2,1225.5 691.6,1234.8 691.9,1237.9 693.6,1244.1 694.6,1243.9 694.7,1249.9 696.6,1253.8 698.3,1260.5 699.2,1264.1 700.3,1269.5 701.9,1268.7 703.5,1276.4 705.3,1278.8 707.5,1281.2 709.4,1288.3 710.6,1290.7 713.1,1293.5 714.6,1297.3 718.3,1301 722.3,1297.3 727,1298.9 731.9,1300.7 736,1305 739.8,1306.8 743.9,1306.2 747.4,1311.7 751.2,1314.3 752.7,1310 755.3,1307.5 756.8,1303.7 759.4,1295.6 761.9,1297.2 763.7,1291.2 765.3,1285.3 767.6,1284.6 768.3,1281.9 768.4,1278.1 770.3,1273.3 771.2,1266.1 770.9,1265.1 772.6,1259 773.6,1252.3 774.4,1248.8 774.6,1244.7 775.8,1239 777,1238 777.6,1228.3 778.4,1227.3 779.7,1220.9 779.6,1216.8 780.4,1214.6 781,1208.9 783.1,1201.3 782.9,1202.4 784,1196.6 784.4,1190.4 785.3,1184.6 786.1,1182.6 787.6,1176.2 788.3,1173.6 789,1166.1 789.5,1164.5 791.2,1157.6 791.9,1157.3 792.6,1151.6 793.3,1145.9 794.8,1142.2 795.4,1135.3 795.4,1131.8 797.2,1126.6 798.1,1122.7 798,1118.9 799.5,1113 799.8,1112.6 801.2,1106.7 801.2,1102.4 802.1,1096.6 803.3,1091.8 804.7,1086.6 805.8,1086.5 806.3,1082.1 807.7,1078.3 809.1,1074.9 811.1,1069.7 813.4,1066.5 815.2,1063.6 818.5,1064.7 820.9,1067.3 821.8,1071.8 822.7,1075.9 824,1084.2 824.2,1087.5 825.1,1092.5 825.7,1096.3 826.2,1101.7 826.4,1107.4 826.2,1110.6 827.3,1113.3 827.6,1119.5 828.2,1122.4 828.8,1127.8 828.3,1132.2 829.5,1135.2 830,1137.5 830.1,1142.6 829.9,1148.9 830.3,1153.7 830.2,1155.7 831.5,1161.5 831.2,1168.5 832.3,1172 832.8,1175.5 833.3,1181.6 833.6,1187.1 833.7,1192.3 834.2,1194 833.6,1198.2 834.7,1200.5 835.1,1207.2 835.3,1209.7 835.1,1217.6 835.7,1219.2 837,1223.1 837.2,1232 837.9,1235.5 837,1238.7 838.6,1243 838.5,1249.4 839,1251.6 839.4,1256.7 839.3,1259 839.6,1268.9 839.9,1269.7 841.2,1272.9 840.4,1279.2 840.9,1284.2 840.8,1287.5 841.4,1292.5 840.7,1300.8 841.9,1303.3 842.3,1307 842.4,1314.8 842.3,1315.9 842.6,1321.3 842.5,1328 842.1,1331 843.7,1338.2 843.1,1344 843.1,1346.5 844.5,1352.1 844.6,1355.8 844.4,1360.4 845.5,1363.4 845.3,1368 845.5,1370.9 846.9,1373.8 847.4,1375.7 847.9,1383.2 849.5,1388 850.7,1391.2 851.7,1396.2 852.2,1397.6 854,1404.7 854.8,1405.5 856.2,1409.2 857.7,1416 860.3,1416.1 862.9,1420.2 865.5,1423.3 867.5,1430.9 869.7,1431.9 872.9,1437.6 875.8,1438.9 877.7,1446 881.3,1443.5 886.4,1448.5 890.2,1450.1 895.9,1453.6 900.8,1450 906.1,1454.5 912.1,1452.3 917,1451.4 922.7,1452.9 926.8,1458.2 930.7,1460.4 935.5,1460.1 940.9,1459.1 944.9,1465.6 948.2,1466.4 953,1465.2 957.9,1469.9 962.4,1469.4 967.3,1472.4 973.4,1475.7 978.4,1471.8 982.4,1473.6 987.9,1478.2 994,1479.2 1000.5,1478.1 1005.5,1478.1 1012.9,1481.1 1018.9,1483 1023.1,1480 1028.4,1483 1033.7,1482.1 1038.3,1482.9 1042.5,1486 1047.8,1484.8 1052.7,1486 1058.1,1481.3 1062.8,1483.2 1068.6,1481.9 1074.5,1484.6 1079.8,1485.3 1084.8,1482.7 1088.8,1483.2 1094.5,1482.4 1100.3,1484 1105.2,1482.8 1110.4,1484.7 1115,1486.5 1120.2,1484.9 1124.8,1485.6 1130.3,1483.6 1134.9,1484.2 1140.9,1488.1 1146,1488.1 1149.9,1486.3 1156.5,1487.3 1161.3,1485.8 1168,1485.6 1173.1,1487.1 1179.4,1490.8 1185.4,1491.4 1190.3,1490.3 1196.2,1486.5 1200.9,1491.5 1206.3,1487.9 1211.8,1490.3 1211.8,1489.7" fill="none" stroke="#000" stroke-width="10.2" stroke-linejoin="round" stroke-linecap="round"/>
<path d="M4,1575.3 8.2,1577.4 13.1,1578.7 17.5,1581.2 21.5,1582 26.9,1584.6 31.3,1582.4 37,1585.8 42.4,1581.5 47.6,1587.1 52,1585.3 56.3,1582 62.2,1582.5 67.1,1583.9 72.5,1585.6 78.9,1588.1 85.1,1587.3 91.2,1587.8 97.6,1585.9 105,1590.3 109.2,1588.7 113,1586.1 117.7,1585.2 123.4,1587.1 128.5,1587.1 133.8,1589.7 137.5,1585.9 144.1,1587.4 149.5,1586.9 153.4,1588.3 159.7,1586.2 163.9,1586.5 170.4,1589.1 174.2,1586.2 179.3,1585.2 185.4,1586.1 190.2,1587.8 194.7,1589.7 199.7,1589.4 204.8,1588.3 210,1587.7 216.3,1591 220.3,1591.7 225.3,1589.1 231.4,1590.7 235.3,1592.9 240.6,1588.9 246.5,1589.6 250.9,1588.3 255.7,1591.5 261,1591.9 266.3,1591.2 272.3,1591.6 276.8,1594.1 281.3,1590.1 287.5,1594.1 291.6,1590.6 297.4,1595.1 301.7,1595.3 307.8,1593.3 312.2,1590.5 316.7,1595.6 322.1,1594.1 327.2,1594.8 332.8,1591.8 337.3,1594.2 342.2,1591.3 348.1,1594.8 353.2,1591.3 358.8,1590.7 362.8,1590.8 368.9,1589.3 374.1,1590.8 380.3,1589.1 385.6,1593.1 392,1591.4 396.9,1590.5 401.2,1586.8 405.8,1591.4 411.3,1591.2 416.2,1588.4 421.6,1587.9 426.2,1587.9 430.3,1583.1 435.1,1582.9 439.5,1579.7 444,1579.5 448.4,1577 454.5,1577 459.1,1575.5 465.1,1573 469.7,1570.6 474.2,1570.3 477.8,1568.8 483.2,1568.3 486.7,1563.4 490.6,1562.4 494.1,1561.5 497.7,1558.3 501.7,1554.4 506.4,1549 510.8,1547.1 514.8,1546.1 518.3,1537.4 522.5,1538 526.4,1532 531.6,1531.9 535,1530.2 538.9,1525.6 541.7,1521.6 545.7,1521.5 548.9,1515.3 551.6,1511.6 554.2,1509.2 558.4,1507.6 561.3,1504.5 563.7,1496 566.9,1492.6 569.3,1489.2 572.5,1485.3 574.5,1482.7 577.8,1475.7 578.7,1468.3 582.1,1463.4 584,1461.4 584.9,1459.2 585.9,1451.9 588.1,1447.8 590.1,1445.5 590.6,1440.7 592.9,1439.2 594.4,1436.5 596.2,1434.3 597.5,1425.9 598.7,1421.9 599.6,1419.8 602.1,1414.5 603,1412 605.9,1408.2 608.1,1405.3 610.2,1401.6 613.4,1394 615.9,1394.4 617.8,1388.9 621.6,1388.1 623.9,1383.2 627.6,1381.4 630.8,1376.4 634.5,1373.1 639.2,1377.5 642.8,1379.2 645.6,1383.4 650,1387.3 652.1,1389.6 654.7,1394.3 657.9,1394.4 659.1,1398.5 662.2,1404.1 664.5,1403.6 667.3,1407.6 669.6,1412.1 671.3,1420 673.4,1420.8 676.4,1428.8 679.2,1433.2 681.7,1436.5 683.9,1438.3 684.8,1444.7 686.8,1449.2 689.4,1451.9 691.6,1455.6 693.1,1458.4 696.3,1465 698.3,1468 703,1469.2 706.3,1470.1 710.2,1474.3 714.3,1473.6 719.5,1478.5 723.3,1481.5 728.2,1480.7 732.9,1479.2 736.9,1482.9 741.4,1488.5 744.1,1488.5 748.3,1489.6 753.8,1490.1 756.6,1483.2 758.8,1481.6 762.4,1475.3 764.6,1471.3 766.6,1469 770,1466.3 772,1464.9 774,1462 776,1457.4 778.3,1451.8 780.7,1449 782.5,1444.4 784.3,1439.3 785.3,1438.2 787.5,1433.6 789.4,1429.7 790.9,1423 792.3,1421.2 793.6,1414.5 793.7,1414.2 794.6,1410.6 796.7,1401.5 796.7,1400.9 797.8,1393.3 799.6,1391.4 800.6,1386.2 801.5,1384.6 802.4,1377.6 804.8,1377.8 806.6,1369.5 807.8,1368.8 809.6,1364.8 811.8,1358 815.6,1358.7 818.9,1365.4 820.7,1367 821.8,1371.8 824,1380 825.3,1379 825.2,1388.6 827,1392.6 827.5,1394.5 828.5,1398.1 829.4,1399.6 830.3,1408.5 830.3,1410.3 831.8,1414.3 831.8,1417.1 833,1420.6 834.4,1429.6 834.9,1434.6 835.5,1436.8 836.2,1442.4 837.6,1449.2 837.3,1454.9 838.8,1459.2 839.7,1462.1 840.5,1469.9 841,1474.2 841.9,1477 842.6,1479.8 842.8,1486.8 843,1490.9 844.7,1497.3 844.8,1503.9 846.1,1505.1 846.9,1511.1 847.4,1514.6 848.9,1520.5 849.2,1525.5 850.4,1525.3 850.7,1533.3 851.1,1535 851.7,1537.4 853.5,1541.9 854.7,1551.3 856.6,1553.4 858.8,1557.9 860.4,1562.1 861.9,1562.3 864,1570.5 865.9,1574.9 869.7,1575.6 873.5,1578.4 878.3,1578.2 883.2,1582.7 886.5,1586.1 890.1,1586.4 895.2,1590 899.4,1592.3 904,1589.3 909.4,1590.6 915.8,1595.7 921,1597.3 926.6,1593 932.3,1598.9 936.4,1599.3 942.6,1597.4 949,1596.6 953.9,1601.2 959.7,1599 965.4,1601.4 970,1597.8 975.1,1600.1 979.5,1598 985.1,1598.6 990.1,1602 995.2,1599.8 1000.5,1600.8 1005.9,1601.6 1011.3,1604.2 1016,1600.2 1020.2,1604.2 1026.3,1602.9 1030.7,1601.1 1036.3,1603.2 1041.2,1604 1046.6,1601.8 1050.9,1606.8 1057,1606.7 1060.8,1602.4 1066.2,1604.9 1071.9,1603.5 1076.8,1603.7 1081.2,1607.6 1087,1607.7 1091.9,1607.1 1096.7,1606.6 1102.6,1609.8 1106.7,1605.9 1112.9,1609 1117.9,1606.9 1122.5,1607.3 1128.2,1608.2 1133,1612 1137.6,1609.6 1143.4,1611.9 1148,1608.8 1152.6,1611.8 1158.1,1607.3 1164.5,1609.7 1170.6,1608.6 1176.6,1607.3 1181.7,1610.7 1187.2,1608.6 1193.6,1610.8 1198.1,1607.6 1202.8,1611 1208.6,1607.4 1211.8,1609.6" fill="none" stroke="#000" stroke-width="10.2" stroke-linejoin="round" stroke-linecap="round"/>
<line x1="653.6" y1="191.6" x2="651.8" y2="1018" stroke="#000" stroke-width="7" stroke-dasharray="26.5 18.7 2.4 19.3" stroke-linecap="round"/>
<line x1="813.6" y1="163.5" x2="811.2" y2="1478" stroke="#000" stroke-width="7" stroke-dasharray="26.5 18.7 2.4 19.3" stroke-linecap="round"/>
</g>
<text transform="translate(1023.3,124.4) scale(0.9000,1)" letter-spacing="-0.93" font-family='"Liberation Sans", sans-serif' font-weight="bold" font-size="104.34">(b)</text>
<text transform="translate(1646.7,152.8) scale(0.9997,1)" font-family='"Liberation Serif", serif' font-weight="bold" font-size="74.83">D</text>
<text transform="translate(1788.4,138.1) scale(0.9458,1)" font-family='"Liberation Serif", serif' font-weight="bold" font-size="76.58">G</text>
<text transform="translate(1909.2,992.9) scale(1.0000,1)" letter-spacing="-7.64" font-family='"Liberation Serif", serif' font-weight="bold" font-size="68.10">ACF-R2</text>
<text transform="translate(1912.4,1132.2) scale(1.0000,1)" letter-spacing="-7.60" font-family='"Liberation Serif", serif' font-weight="bold" font-size="68.10">ACF-R4</text>
<text transform="translate(1912.6,1301.6) scale(1.0000,1)" letter-spacing="-8.21" font-family='"Liberation Serif", serif' font-weight="bold" font-size="69.00">ACF-R1</text>
<text transform="translate(1897.9,1434.8) scale(1.0000,1)" letter-spacing="-7.94" font-family='"Liberation Serif", serif' font-weight="bold" font-size="68.40">ACF-Rw</text>
<text transform="translate(1919.6,1550.6) scale(1.0000,1)" letter-spacing="-6.94" font-family='"Liberation Serif", serif' font-weight="bold" font-size="68.15">ACF-0</text>
<text transform="translate(1208,1769.4) scale(1.0000,1)" letter-spacing="-7.38" font-family='"Liberation Serif", serif' font-weight="bold" font-size="79.41">600</text>
<text transform="translate(1370,1769.4) scale(1.0000,1)" letter-spacing="-7.17" font-family='"Liberation Serif", serif' font-weight="bold" font-size="79.41">900</text>
<text transform="translate(1515.1,1769.4) scale(1.0000,1)" letter-spacing="-7.03" font-family='"Liberation Serif", serif' font-weight="bold" font-size="79.41">1200</text>
<text transform="translate(1678.1,1769.4) scale(1.0000,1)" letter-spacing="-7.03" font-family='"Liberation Serif", serif' font-weight="bold" font-size="79.41">1500</text>
<text transform="translate(1840.7,1769.4) scale(1.0000,1)" letter-spacing="-7.43" font-family='"Liberation Serif", serif' font-weight="bold" font-size="79.41">1800</text>
<text transform="translate(2001.5,1769.4) scale(1.0000,1)" letter-spacing="-6.79" font-family='"Liberation Serif", serif' font-weight="bold" font-size="79.41">2100</text>
<text transform="translate(1294.4,1888.5) scale(1.0000,1)" letter-spacing="-4.72" font-family='"Liberation Serif", serif' font-weight="bold" font-size="92.43">Raman shift (cm</text>
<text transform="translate(1876.9,1834.6) scale(1.0000,1)" letter-spacing="-0.52" font-family='"Liberation Serif", serif' font-weight="bold" font-size="50.00">-1</text>
<text transform="translate(1914.6,1888.2) scale(0.8270,1)" font-family='"Liberation Serif", serif' font-weight="bold" font-size="93.44">)</text>
<text transform="translate(1131.4,1027.9) rotate(-90) scale(1.0000,1)" letter-spacing="0.59" font-family='"Liberation Serif", serif' font-weight="bold" font-size="95.71">Intensity (a.u.)</text>
<text transform="translate(1183.7,1076.4) scale(1.0452,1)" font-family='"Liberation Serif", serif' font-weight="bold" font-size="67.94">I</text>
<text transform="translate(1206.5,1102.5) scale(0.9676,1)" font-family='"Liberation Serif", serif' font-weight="bold" font-size="42.13">D</text>
<text transform="translate(1231.5,1075) scale(0.9462,1)" font-family='"Liberation Serif", serif' font-weight="bold" font-size="67.50">/</text>
<text transform="translate(1245.7,1076.4) scale(1.0406,1)" font-family='"Liberation Serif", serif' font-weight="bold" font-size="67.94">I</text>
<text transform="translate(1267.6,1102.6) scale(1.0325,1)" font-family='"Liberation Serif", serif' font-weight="bold" font-size="41.78">G</text>
<text transform="translate(1291,1078.4) scale(1.1788,1)" font-family='"Liberation Serif", serif' font-weight="bold" font-size="67.50">=</text>
<text transform="translate(1325.5,1076.6) scale(1.0000,1)" letter-spacing="-5.70" font-family='"Liberation Serif", serif' font-weight="bold" font-size="69.12">1.07</text>
<text transform="translate(1173.8,1204) scale(1.0452,1)" font-family='"Liberation Serif", serif' font-weight="bold" font-size="67.94">I</text>
<text transform="translate(1196.6,1230.1) scale(0.9676,1)" font-family='"Liberation Serif", serif' font-weight="bold" font-size="42.13">D</text>
<text transform="translate(1221.6,1202.6) scale(0.9462,1)" font-family='"Liberation Serif", serif' font-weight="bold" font-size="67.50">/</text>
<text transform="translate(1235.8,1204) scale(1.0406,1)" font-family='"Liberation Serif", serif' font-weight="bold" font-size="67.94">I</text>
<text transform="translate(1257.7,1230.2) scale(1.0325,1)" font-family='"Liberation Serif", serif' font-weight="bold" font-size="41.78">G</text>
<text transform="translate(1281.1,1206) scale(1.1788,1)" font-family='"Liberation Serif", serif' font-weight="bold" font-size="67.50">=</text>
<text transform="translate(1315.6,1204.2) scale(1.0000,1)" letter-spacing="-5.28" font-family='"Liberation Serif", serif' font-weight="bold" font-size="69.12">1.06</text>
<text transform="translate(1175,1318.4) scale(1.0452,1)" font-family='"Liberation Serif", serif' font-weight="bold" font-size="67.94">I</text>
<text transform="translate(1197.8,1344.5) scale(0.9676,1)" font-family='"Liberation Serif", serif' font-weight="bold" font-size="42.13">D</text>
<text transform="translate(1222.8,1317) scale(0.9462,1)" font-family='"Liberation Serif", serif' font-weight="bold" font-size="67.50">/</text>
<text transform="translate(1237,1318.4) scale(1.0406,1)" font-family='"Liberation Serif", serif' font-weight="bold" font-size="67.94">I</text>
<text transform="translate(1258.9,1344.6) scale(1.0325,1)" font-family='"Liberation Serif", serif' font-weight="bold" font-size="41.78">G</text>
<text transform="translate(1282.3,1320.4) scale(1.1788,1)" font-family='"Liberation Serif", serif' font-weight="bold" font-size="67.50">=</text>
<text transform="translate(1316.8,1318.6) scale(1.0000,1)" letter-spacing="-5.08" font-family='"Liberation Serif", serif' font-weight="bold" font-size="69.12">1.05</text>
<text transform="translate(1185.8,1434.8) scale(1.0452,1)" font-family='"Liberation Serif", serif' font-weight="bold" font-size="67.94">I</text>
<text transform="translate(1208.6,1460.9) scale(0.9676,1)" font-family='"Liberation Serif", serif' font-weight="bold" font-size="42.13">D</text>
<text transform="translate(1233.6,1433.4) scale(0.9462,1)" font-family='"Liberation Serif", serif' font-weight="bold" font-size="67.50">/</text>
<text transform="translate(1247.8,1434.8) scale(1.0406,1)" font-family='"Liberation Serif", serif' font-weight="bold" font-size="67.94">I</text>
<text transform="translate(1269.7,1461) scale(1.0325,1)" font-family='"Liberation Serif", serif' font-weight="bold" font-size="41.78">G</text>
<text transform="translate(1293.1,1436.8) scale(1.1788,1)" font-family='"Liberation Serif", serif' font-weight="bold" font-size="67.50">=</text>
<text transform="translate(1327.6,1435) scale(1.0000,1)" letter-spacing="-5.70" font-family='"Liberation Serif", serif' font-weight="bold" font-size="69.12">1.01</text>
<text transform="translate(1180.7,1544.4) scale(1.0452,1)" font-family='"Liberation Serif", serif' font-weight="bold" font-size="67.94">I</text>
<text transform="translate(1203.5,1570.5) scale(0.9676,1)" font-family='"Liberation Serif", serif' font-weight="bold" font-size="42.13">D</text>
<text transform="translate(1228.5,1543) scale(0.9462,1)" font-family='"Liberation Serif", serif' font-weight="bold" font-size="67.50">/</text>
<text transform="translate(1242.7,1544.4) scale(1.0406,1)" font-family='"Liberation Serif", serif' font-weight="bold" font-size="67.94">I</text>
<text transform="translate(1264.6,1570.6) scale(1.0325,1)" font-family='"Liberation Serif", serif' font-weight="bold" font-size="41.78">G</text>
<text transform="translate(1288,1546.4) scale(1.1788,1)" font-family='"Liberation Serif", serif' font-weight="bold" font-size="67.50">=</text>
<text transform="translate(1325.4,1544.6) scale(1.0000,1)" letter-spacing="-6.22" font-family='"Liberation Serif", serif' font-weight="bold" font-size="69.12">0.95</text>
</svg></body></html>
